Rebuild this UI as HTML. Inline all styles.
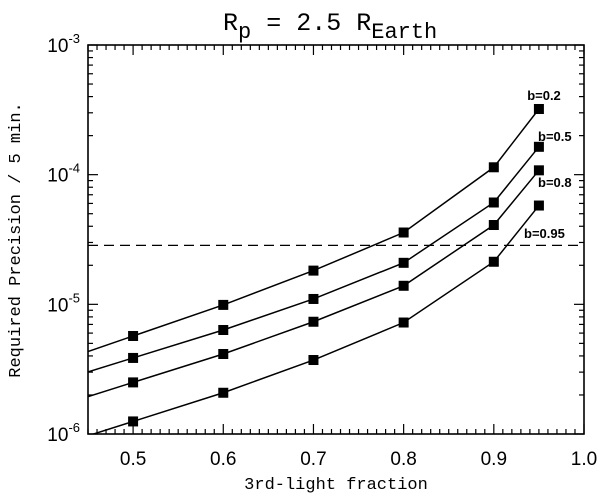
<!DOCTYPE html>
<html><head><meta charset="utf-8"><style>
html,body{margin:0;padding:0;background:#fff;}
svg{display:block;font-family:"Liberation Sans",sans-serif;}
</style></head><body>
<svg id="chart" width="600" height="497" viewBox="0 0 600 497">
<defs><clipPath id="plotclip"><rect x="88" y="45" width="496" height="389"/></clipPath></defs>
<g id="ticks"></g>
<g id="series" clip-path="url(#plotclip)"></g>
<rect x="88" y="45" width="496" height="389" fill="none" stroke="#000" stroke-width="1.6"/>
<text x="223" y="30" font-size="25" font-family="Liberation Mono, monospace">R<tspan dy="8" font-size="22">p</tspan><tspan dy="-8"> = 2.5 R</tspan><tspan dy="8" font-size="22">Earth</tspan></text>
<text x="336" y="489" text-anchor="middle" font-size="17" font-family="Liberation Mono, monospace">3rd-light fraction</text>
<text transform="translate(20,240) rotate(-90)" text-anchor="middle" font-size="17" font-family="Liberation Mono, monospace">Required Precision / 5 min.</text>
</svg>
<script>
const xCats = [0.5, 0.6, 0.7, 0.8, 0.9, 0.95];
const seriesNames = ["b=0.2", "b=0.5", "b=0.8", "b=0.95"];
const sB02 = [5.7e-6, 9.9e-6, 1.82e-5, 3.58e-5, 1.14e-4, 3.21e-4];
const sB05 = [3.86e-6, 6.34e-6, 1.10e-5, 2.09e-5, 6.1e-5, 1.64e-4];
const sB08 = [2.5e-6, 4.14e-6, 7.34e-6, 1.39e-5, 4.09e-5, 1.08e-4];
const sB095 = [1.25e-6, 2.08e-6, 3.72e-6, 7.24e-6, 2.13e-5, 5.78e-5];
const threshold = 2.85e-5;
const xTickLabels = ["0.5","0.6","0.7","0.8","0.9","1.0"];
const xTickVals = [0.5,0.6,0.7,0.8,0.9,1.0];
const yDecades = [-6,-5,-4,-3];

const L=88,R=584,T=45,B=434;
const X0=0.45,X1=1.0,Y0=-6,Y1=-3;
function xs(v){return L+(v-X0)/(X1-X0)*(R-L);}
function ys(v){return B-(Math.log10(v)-Y0)/(Y1-Y0)*(B-T);}
const NS="http://www.w3.org/2000/svg";
function mk(tag,attrs,parent){const e=document.createElementNS(NS,tag);for(const k in attrs)e.setAttribute(k,attrs[k]);parent.appendChild(e);return e;}
const tg=document.getElementById('ticks');
const sg=document.getElementById('series');
for(let i=45;i<=100;i++){
  const v=i/100, x=xs(v), major=(i%10===0), len=major?10:5;
  const t1=mk('line',{x1:x,y1:B,x2:x,y2:B-len,stroke:'#000','stroke-width':1.2},tg);
  
  
  const t2=mk('line',{x1:x,y1:T,x2:x,y2:T+len,stroke:'#000','stroke-width':1.2},tg);
  
  
}
xTickVals.forEach((v,i)=>{
  const t=mk('text',{x:xs(v),y:465,'text-anchor':'middle','font-size':19},tg);
  t.textContent=xTickLabels[i];
  
  
});
yDecades.forEach(d=>{
  for(let m=1;m<=9;m++){
    if(d===-3&&m>1)break;
    const v=m*Math.pow(10,d), y=ys(v), len=m===1?10:5;
    const a=mk('line',{x1:L,y1:y,x2:L+len,y2:y,stroke:'#000','stroke-width':1.2},tg);
    
    
    const b=mk('line',{x1:R,y1:y,x2:R-len,y2:y,stroke:'#000','stroke-width':1.2},tg);
    
    
  }
  const t=mk('text',{x:80,y:ys(Math.pow(10,d))+7,'text-anchor':'end','font-size':19},tg);
  t.innerHTML='10<tspan dy="-9" font-size="13">'+d+'</tspan>';
  
  
});
const th=mk('line',{x1:L,y1:ys(threshold),x2:R,y2:ys(threshold),stroke:'#000','stroke-width':1.3,'stroke-dasharray':'10,6'},sg);


const allS=[sB02,sB05,sB08,sB095];
allS.forEach((s,si)=>{
  const l0=Math.log10(s[0]),l1=Math.log10(s[1]);
  const ext=Math.pow(10,l0-(l1-l0)*(xCats[0]-X0)/(xCats[1]-xCats[0]));
  let pts=[[xs(X0),ys(ext)]];
  s.forEach((v,i)=>pts.push([xs(xCats[i]),ys(v)]));
  const pl=mk('polyline',{points:pts.map(p=>p.join(',')).join(' '),fill:'none',stroke:'#000','stroke-width':1.5},sg);
  
  
  s.forEach((v,i)=>{
    const r=mk('rect',{x:xs(xCats[i])-5,y:ys(v)-5,width:10,height:10,fill:'#000'},sg);
    
    
  });
});
const labelPos=[[544,100,'middle'],[538,141,'start'],[538,187,'start'],[524,238,'start']];
seriesNames.forEach((n,i)=>{
  const t=mk('text',{x:labelPos[i][0],y:labelPos[i][1],'text-anchor':labelPos[i][2],'font-size':13,'font-weight':'bold'},document.getElementById('chart'));
  t.textContent=n;
  
  
});
</script>
</body></html>
